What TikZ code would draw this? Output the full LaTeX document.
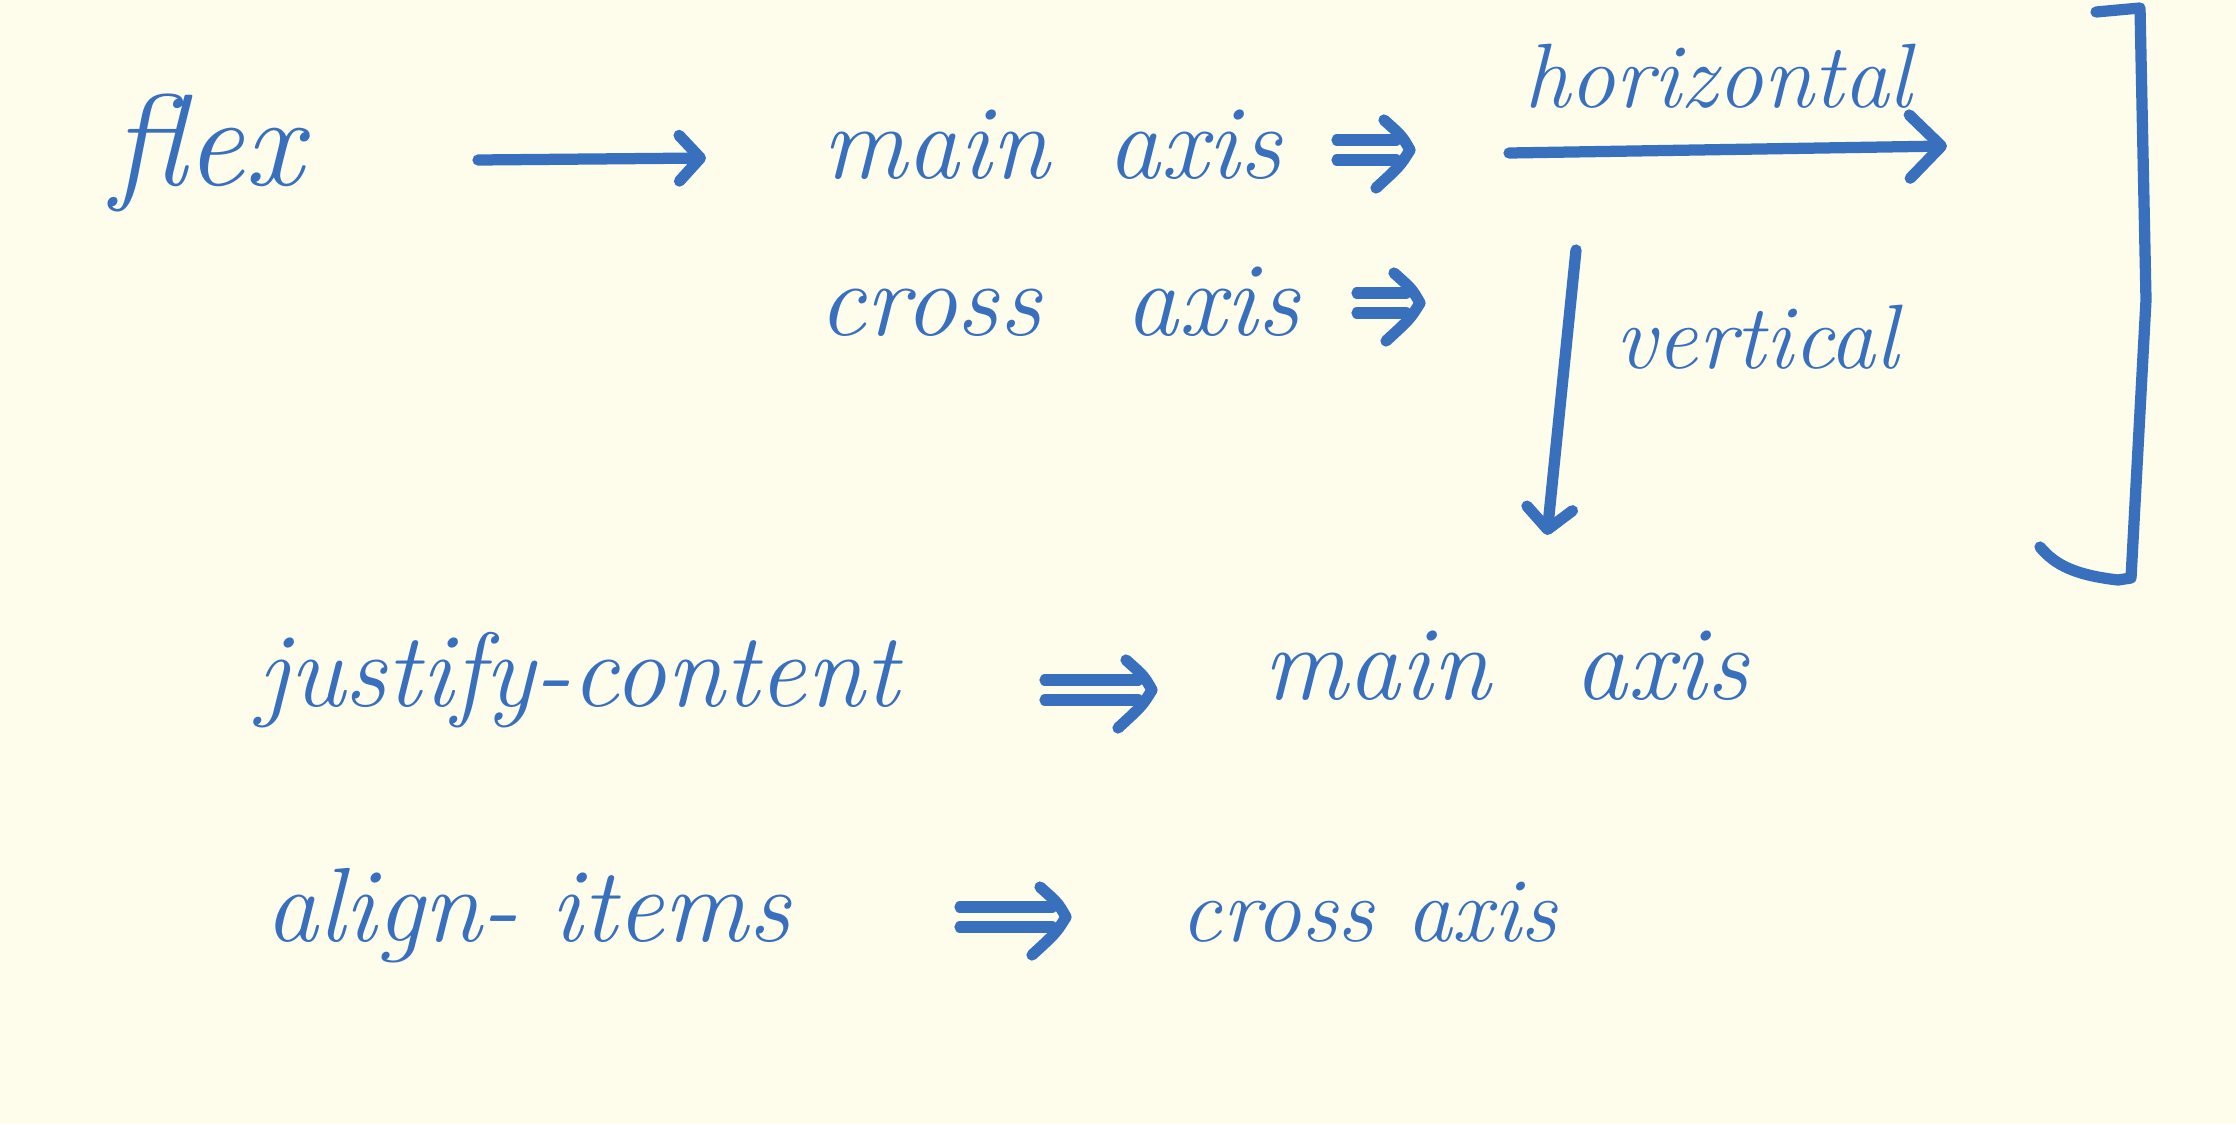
\documentclass[tikz,border=0pt]{standalone}
\usepackage{fontspec}
\usetikzlibrary{arrows.meta,calc}
\definecolor{ink}{HTML}{3870BE}
\definecolor{paper}{HTML}{FEFCEB}
\begin{document}
\begin{tikzpicture}[x=0.01cm,y=-0.01cm,
  pen/.style={draw=ink, line width=3.2pt, line cap=round, line join=round},
  txt/.style={text=ink, font=\fontsize{30}{32}\selectfont\itshape, inner sep=0pt, anchor=base},
  small/.style={font=\fontsize{26}{28}\selectfont\itshape},
  arr/.style={pen, -{Straight Barb[length=6pt,width=13pt,line width=3.2pt,round]}},
  bigarr/.style={pen, -{Straight Barb[length=9pt,width=18pt,line width=3.2pt,round]}}
]
\fill[paper] (0,0) rectangle (2236,1124);
\useasboundingbox (0,0) rectangle (2236,1124);

% implies-arrow macro: start, end
\def\impl(#1)(#2){%
  \draw[pen] ($(#1)+(0,-10)$) -- ($(#2)+(-14,-10)$);
  \draw[pen] ($(#1)+(0,10)$) -- ($(#2)+(-14,10)$);
  \draw[pen] ($(#2)+(-26,-30)$) .. controls ($(#2)+(-8,-14)$) .. (#2)
     .. controls ($(#2)+(-10,16)$) .. ($(#2)+(-34,38)$);
}

% texts
\node[txt, font=\fontsize{37}{40}\selectfont\itshape] (flex) at (207,185) {flex};
\node[txt] (main1) at (1052,178) {main\hspace{0.55em}axis};
\node[txt] (cross1) at (1059,335) {cross\hspace{0.8em}axis};
\node[txt, small] (horiz) at (1718,107) {horizontal};
\node[txt, small] (vert) at (1757,368) {vertical};
\node[txt] (justify) at (578,706) {justify-content};
\node[txt] (main2) at (1506,699) {main\hspace{0.8em}axis};
\node[txt] (align) at (528,941) {align-\hspace{0.3em}items};
\node[txt, small] (cross2) at (1369,941) {cross axis};

% arrow endpoints
\coordinate (a1s) at (478,160);
\coordinate (a1e) at (706,158);
\coordinate (h1s) at (1509,153);
\coordinate (h1e) at (1947,146);
\coordinate (v1s) at (1576,250);
\coordinate (v1e) at (1547,535);
\coordinate (i1s) at (1337,150);
\coordinate (i1e) at (1410,150);
\coordinate (i2s) at (1357,303);
\coordinate (i2e) at (1420,303);
\coordinate (i3s) at (1045,690);
\coordinate (i3e) at (1152,690);
\coordinate (i4s) at (960,917);
\coordinate (i4e) at (1066,917);

\draw[arr] (a1s) -- (a1e);
\draw[bigarr] (h1s) -- (h1e);
\draw[arr] (v1s) -- (v1e);
\impl(i1s)(i1e)
\impl(i2s)(i2e)
\impl(i3s)(i3e)
\impl(i4s)(i4e)

% bracket
\draw[pen] (2096,12) -- (2140,8) -- (2146,300) -- (2131,578)
  -- (2118,580) .. controls (2075,575) and (2055,565) .. (2040,547);
\end{tikzpicture}
\end{document}
